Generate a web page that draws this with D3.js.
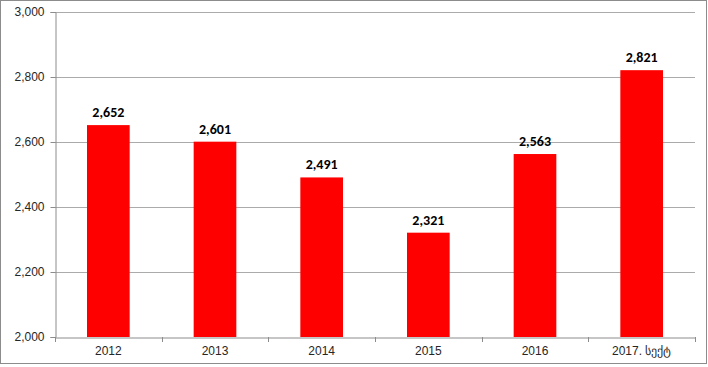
<!DOCTYPE html>
<html><head><meta charset="utf-8">
<script src="https://cdn.jsdelivr.net/npm/d3@7/dist/d3.min.js"></script>
<style>body{margin:0;background:#fff;}svg{display:block;font-family:Calibri,Carlito,Lato,"DejaVu Sans",sans-serif;}</style>
</head><body>
<script>
const categories = ["2012","2013","2014","2015","2016","2017. სექტ"];
const values = [2652,2601,2491,2321,2563,2821];
const yTicks = [2000,2200,2400,2600,2800,3000];

const W=708,H=367;
const svg=d3.select("body").append("svg").attr("width",W).attr("height",H);
svg.append("rect").attr("x",0.5).attr("y",0.5).attr("width",706).attr("height",363)
  .attr("fill","#fff").attr("stroke","#8c8c8c").attr("stroke-width",1);

const L=55,R=695,T=12,B=337;
const x=d3.scaleBand().domain(categories).range([L,R]).paddingInner(0.6).paddingOuter(0.3);
const y=d3.scaleLinear().domain([2000,3000]).range([B,T]);

// gridlines
svg.append("g").selectAll("line").data(yTicks.slice(1)).join("line")
  .attr("x1",L).attr("x2",R).attr("y1",d=>Math.round(y(d))+0.5).attr("y2",d=>Math.round(y(d))+0.5)
  .attr("stroke","#ababab");

// y axis
const ya=svg.append("g").attr("transform",`translate(${L+0.5},0)`)
  .call(d3.axisLeft(y).tickValues(yTicks).tickFormat(d3.format(",")).tickSize(5).tickPadding(6));
ya.select(".domain").attr("stroke","#8c8c8c");
ya.selectAll(".tick line").attr("stroke","#8c8c8c");
ya.selectAll("text").attr("font-size",12).attr("fill","#262626");

// bars
svg.append("g").selectAll("rect").data(values).join("rect")
  .attr("x",(d,i)=>x(categories[i])).attr("width",x.bandwidth())
  .attr("y",d=>y(d)).attr("height",d=>B-y(d)).attr("fill","#ff0000");

// x axis
const xa=svg.append("g").attr("transform",`translate(0,${B+0.5})`)
  .call(d3.axisBottom(x).tickSize(0).tickPadding(9));
xa.select(".domain").attr("stroke","#8c8c8c");
xa.selectAll("text").attr("font-size",12).attr("fill","#262626");
// boundary ticks
const bounds=d3.range(categories.length+1).map(i=>L+i*(R-L)/categories.length);
svg.append("g").selectAll("line").data(bounds).join("line")
  .attr("x1",d=>Math.round(d)+0.5).attr("x2",d=>Math.round(d)+0.5).attr("y1",B).attr("y2",B+5)
  .attr("stroke","#8c8c8c");

// labels
svg.append("g").selectAll("text").data(values).join("text")
  .attr("x",(d,i)=>x(categories[i])+x.bandwidth()/2).attr("y",d=>y(d)-8)
  .attr("text-anchor","middle").attr("font-weight","bold").attr("font-size",14).attr("fill","#000")
  .text(d=>d3.format(",")(d));
</script>
</body></html>
